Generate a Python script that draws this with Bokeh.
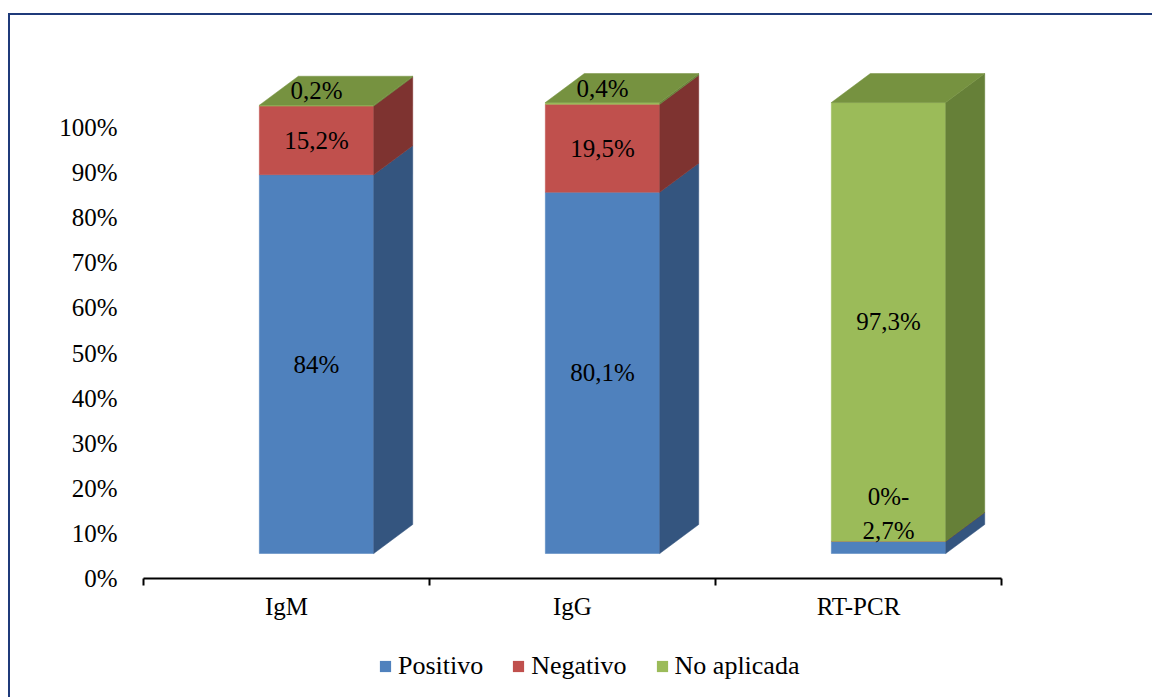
from bokeh.plotting import figure
from bokeh.layouts import column
from bokeh.models import Range1d, FixedTicker, Legend, LegendItem, ColumnDataSource
from bokeh.core.properties import value
from bokeh.embed import file_html
from bokeh.resources import INLINE

# --- data -------------------------------------------------------------
categories = ["IgM", "IgG", "RT-PCR"]
series_names = ["Positivo", "Negativo", "No aplicada"]
positivo = [84.0, 80.1, 2.7]
negativo = [15.2, 19.5, 0.0]
no_aplicada = [0.2, 0.4, 97.3]
positivo_labels = ["84%", "80,1%", "2,7%"]
negativo_labels = ["15,2%", "19,5%", "0%-"]
no_aplicada_labels = ["0,2%", "0,4%", "97,3%"]
y_ticks = [0, 10, 20, 30, 40, 50, 60, 70, 80, 90, 100]

# --- styling ----------------------------------------------------------
FONT = "Liberation Serif"
FS = "25px"
FRONT = ["#4F81BD", "#C0504D", "#9BBB59"]
SIDE = ["#34557F", "#7E3330", "#668038"]
TOP = ["#3F6697", "#99403D", "#769240"]

TOTAL_W = 1142
LEFT, RIGHT, TOP_B, BOTTOM = 133, 151, 45, 60
frame_w = 858
frame_h = 518
LEGEND_H = 59
Y_MAX = 114.86
px_x = frame_w / len(categories)
px_y = frame_h / Y_MAX

FLOOR = 25 / px_y      # front faces stand on a raised floor
DX = 39 / px_x         # depth offset of the 3D boxes
DY = 29 / px_y
BAR_W = 0.40
SHIFT = 0.105
LABEL_MIN = 23 / px_y
LABEL_GAP = 34 / px_y

p = figure(frame_width=frame_w, frame_height=frame_h, output_backend="svg",
           toolbar_location=None,
           x_range=Range1d(0, len(categories)), y_range=Range1d(0, Y_MAX),
           min_border_left=LEFT, min_border_right=RIGHT,
           min_border_top=TOP_B, min_border_bottom=BOTTOM)
p.outline_line_color = None
p.xgrid.grid_line_color = None
p.ygrid.grid_line_color = None
p.background_fill_color = "white"
p.border_fill_color = "white"

# y axis: labels only
p.yaxis.ticker = FixedTicker(ticks=y_ticks)
p.yaxis.major_label_overrides = {t: f"{t}%" for t in y_ticks}
p.yaxis.axis_line_color = None
p.yaxis.major_tick_line_color = None
p.yaxis.minor_tick_line_color = None
p.yaxis.major_label_standoff = 20
p.yaxis.major_label_text_font = FONT
p.yaxis.major_label_text_font_size = FS
p.yaxis.major_label_text_color = "black"

# x axis: category names centred, tick marks between categories
centers = [i + 0.5 for i in range(len(categories))]
p.xaxis.ticker = FixedTicker(ticks=centers, minor_ticks=list(range(len(categories) + 1)))
p.xaxis.major_label_overrides = {c: n for c, n in zip(centers, categories)}
p.xaxis.axis_line_color = "black"
p.xaxis.axis_line_width = 2
p.xaxis.major_tick_line_color = None
p.xaxis.major_tick_out = 0
p.xaxis.major_tick_in = 0
p.xaxis.minor_tick_line_color = "black"
p.xaxis.minor_tick_line_width = 2
p.xaxis.minor_tick_out = 7
p.xaxis.minor_tick_in = 0
p.xaxis.major_label_standoff = 7
p.xaxis.major_label_text_font = FONT
p.xaxis.major_label_text_font_size = FS
p.xaxis.major_label_text_color = "black"

series = [positivo, negativo, no_aplicada]
labels = [positivo_labels, negativo_labels, no_aplicada_labels]
n = len(categories)
lefts = [c + SHIFT - BAR_W / 2 for c in centers]
rights = [c + SHIFT + BAR_W / 2 for c in centers]
mids = [c + SHIFT for c in centers]

bottoms = [0.0] * n
front_sources = []
for k, vals in enumerate(series):
    y0 = [FLOOR + b for b in bottoms]
    y1 = [FLOOR + b + v for b, v in zip(bottoms, vals)]
    src = ColumnDataSource(dict(left=lefts, right=rights, bottom=y0, top=y1))
    front_sources.append(src)
    p.quad(left="left", right="right", bottom="bottom", top="top", source=src,
           fill_color=FRONT[k], line_color=FRONT[k], line_width=0.5)
    xs = [[rr, rr + DX, rr + DX, rr] for rr in rights]
    ys = [[a, a + DY, b + DY, b] for a, b in zip(y0, y1)]
    p.patches(xs, ys, fill_color=SIDE[k], line_color=SIDE[k], line_width=0.5)
    bottoms = [b + v for b, v in zip(bottoms, vals)]

# top faces, coloured by the uppermost non-empty segment
top_xs, top_ys, top_cols = [], [], []
for i in range(n):
    k_top = max(k for k in range(len(series)) if series[k][i] > 0)
    t = FLOOR + bottoms[i]
    top_xs.append([lefts[i], rights[i], rights[i] + DX, lefts[i] + DX])
    top_ys.append([t, t, t + DY, t + DY])
    top_cols.append(TOP[k_top])
p.patches(top_xs, top_ys, fill_color=top_cols, line_color=top_cols, line_width=0.5)

# value labels
lx, ly, lt = [], [], []
for i in range(n):
    cum = 0.0
    prev = None
    for k, vals in enumerate(series):
        v = vals[i]
        if k == len(series) - 1 and v < 4:
            y = bottoms[i] + DY / 2
        else:
            y = max(cum + v / 2, LABEL_MIN)
            if prev is not None:
                y = max(y, prev + LABEL_GAP)
        prev = y
        cum += v
        lx.append(mids[i])
        ly.append(FLOOR + y)
        lt.append(labels[k][i])
p.text(x=lx, y=ly, text=lt, text_font=value(FONT), text_font_size=FS,
       text_align="center", text_baseline="middle", text_color="black")

# legend strip under the chart; it shares the series sources, whose boxes
# fall outside this strip's ranges so only the legend swatches show
leg = figure(width=TOTAL_W, height=LEGEND_H, output_backend="svg", toolbar_location=None,
             x_axis_location=None, y_axis_location=None,
             min_border=0, x_range=Range1d(-1, -0.5), y_range=Range1d(-1, -0.5))
leg.outline_line_color = None
leg.xgrid.grid_line_color = None
leg.ygrid.grid_line_color = None
items = []
for k, name in enumerate(series_names):
    r = leg.quad(left="left", right="right", bottom="bottom", top="top",
                 source=front_sources[k], fill_color=FRONT[k], line_color=None)
    items.append(LegendItem(label=name, renderers=[r]))
legend = Legend(items=items, orientation="horizontal", location=(235, 16),
                border_line_color=None, background_fill_alpha=0,
                label_text_font=FONT, label_text_font_size="26px", label_text_color="black",
                glyph_width=14, glyph_height=14, label_standoff=6, spacing=28,
                padding=0, margin=0)
leg.add_layout(legend, "center")

layout = column(p, leg, spacing=0)
layout.styles = {"position": "absolute", "left": "8px", "top": "13px",
                 "border-left": "2px solid #1F3A7A", "border-top": "2px solid #1F3A7A"}

open("out.html", "w").write(file_html(layout, INLINE))
